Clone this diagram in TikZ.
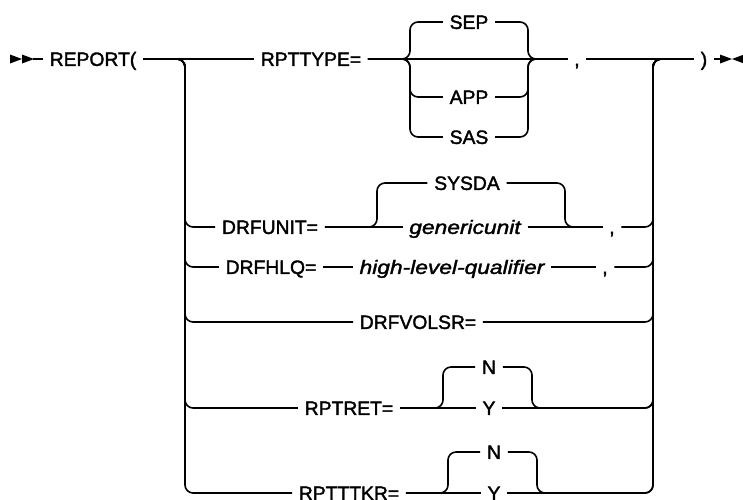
\documentclass[tikz,border=0pt]{standalone}
\usepackage{fontspec}
\setmainfont{Liberation Sans}
\newfontfamily\diagfont{Liberation Sans}[FakeBold=1.8,ItalicFeatures={FakeStretch=1.18}]
\usepackage{tikz}

\begin{document}
\begin{tikzpicture}[x=1pt,y=-1pt,line width=1.6pt,
  lbl/.style={inner xsep=6pt,inner ysep=0pt,text height=13.8pt,text depth=0pt,font=\diagfont\fontsize{19.3}{22}\selectfont},
  itl/.style={lbl,font=\diagfont\fontsize{19.3}{22}\selectfont\itshape},
  rc/.style={rounded corners=8pt}]
\useasboundingbox (0,0) rectangle (743,499);
\coordinate (st) at (33,59);
\coordinate (en) at (727,59);
\coordinate (rv) at (653,59);
\fill[black] (10,54.5)--(22,59)--(10,63.5)--cycle;
\fill[black] (22,54.5)--(34,59)--(22,63.5)--cycle;
\fill[black] (720,54.5)--(732,59)--(720,63.5)--cycle;
\fill[black] (744,54.5)--(732,59)--(744,63.5)--cycle;
\node (report) at (93,59) [lbl]{REPORT(};
\node (rpttype) at (311,59) [lbl]{RPTTYPE=};
\node (sep) at (469,22) [lbl]{SEP};
\node (app) at (469,97) [lbl]{APP};
\node (sas) at (469,137) [lbl]{SAS};
\node (c1) at (577,59) [lbl]{,};
\node (rparen) at (704,59) [lbl]{)};
\node (drfunit) at (270,227) [lbl]{DRFUNIT=};
\node (sysda) at (467,183) [lbl]{SYSDA};
\node (gunit) at (465,227) [itl]{genericunit};
\node (c2) at (612,227) [lbl]{,};
\node (drfhlq) at (271,267) [lbl]{DRFHLQ=};
\node (hlq) at (452,267) [itl]{high-level-qualifier};
\node (c3) at (605,267) [lbl]{,};
\node (drfvol) at (418,322) [lbl]{DRFVOLSR=};
\node (rptret) at (349,408) [lbl]{RPTRET=};
\node (n1) at (489,367) [lbl]{N};
\node (y1) at (489,408) [lbl]{Y};
\node (rpttkr) at (349,493) [lbl]{RPTTTKR=};
\node (n2) at (494,452) [lbl]{N};
\node (y2) at (494,493) [lbl]{Y};
\draw (st)--(report.west);
\draw (report.east)--(rpttype.west);
\draw (rpttype.east)--(c1.west);
\draw (c1.east)--(rparen.west);
\draw (rparen.east)--(en);
\draw[rc] (rpttype.east)-|(410,22)--(sep.west);
\draw[rc] (rpttype.east)-|(410,97)--(app.west);
\draw[rc] (rpttype.east)-|(410,137)--(sas.west);
\draw[rc] (sep.east)-|(528,59)--(c1.west);
\draw[rc] (app.east)-|(528,59)--(c1.west);
\draw[rc] (sas.east)-|(528,59)--(c1.west);
\draw[rc] (report.east)-|(185,227)--(drfunit.west);
\draw (drfunit.east)--(gunit.west);
\draw[rc] (drfunit.east)-|(377,183)--(sysda.west);
\draw[rc] (sysda.east)-|(565,227)--(c2.west);
\draw (gunit.east)--(c2.west);
\draw[rc] (c2.east)-|(rv)--(rparen.west);
\draw[rc] (report.east)-|(185,267)--(drfhlq.west);
\draw (drfhlq.east)--(hlq.west);
\draw (hlq.east)--(c3.west);
\draw[rc] (c3.east)-|(rv)--(rparen.west);
\draw[rc] (report.east)-|(185,322)--(drfvol.west);
\draw[rc] (drfvol.east)-|(rv)--(rparen.west);
\draw[rc] (report.east)-|(185,408)--(rptret.west);
\draw (rptret.east)--(y1.west);
\draw[rc] (rptret.east)-|(443,367)--(n1.west);
\draw[rc] (n1.east)-|(532,408)-|(rv)--(rparen.west);
\draw[rc] (y1.east)-|(rv)--(rparen.west);
\draw[rc] (report.east)-|(185,493)--(rpttkr.west);
\draw (rpttkr.east)--(y2.west);
\draw[rc] (rpttkr.east)-|(448,452)--(n2.west);
\draw[rc] (n2.east)-|(537,493)-|(rv)--(rparen.west);
\draw[rc] (y2.east)-|(rv)--(rparen.west);
\end{tikzpicture}
\end{document}
